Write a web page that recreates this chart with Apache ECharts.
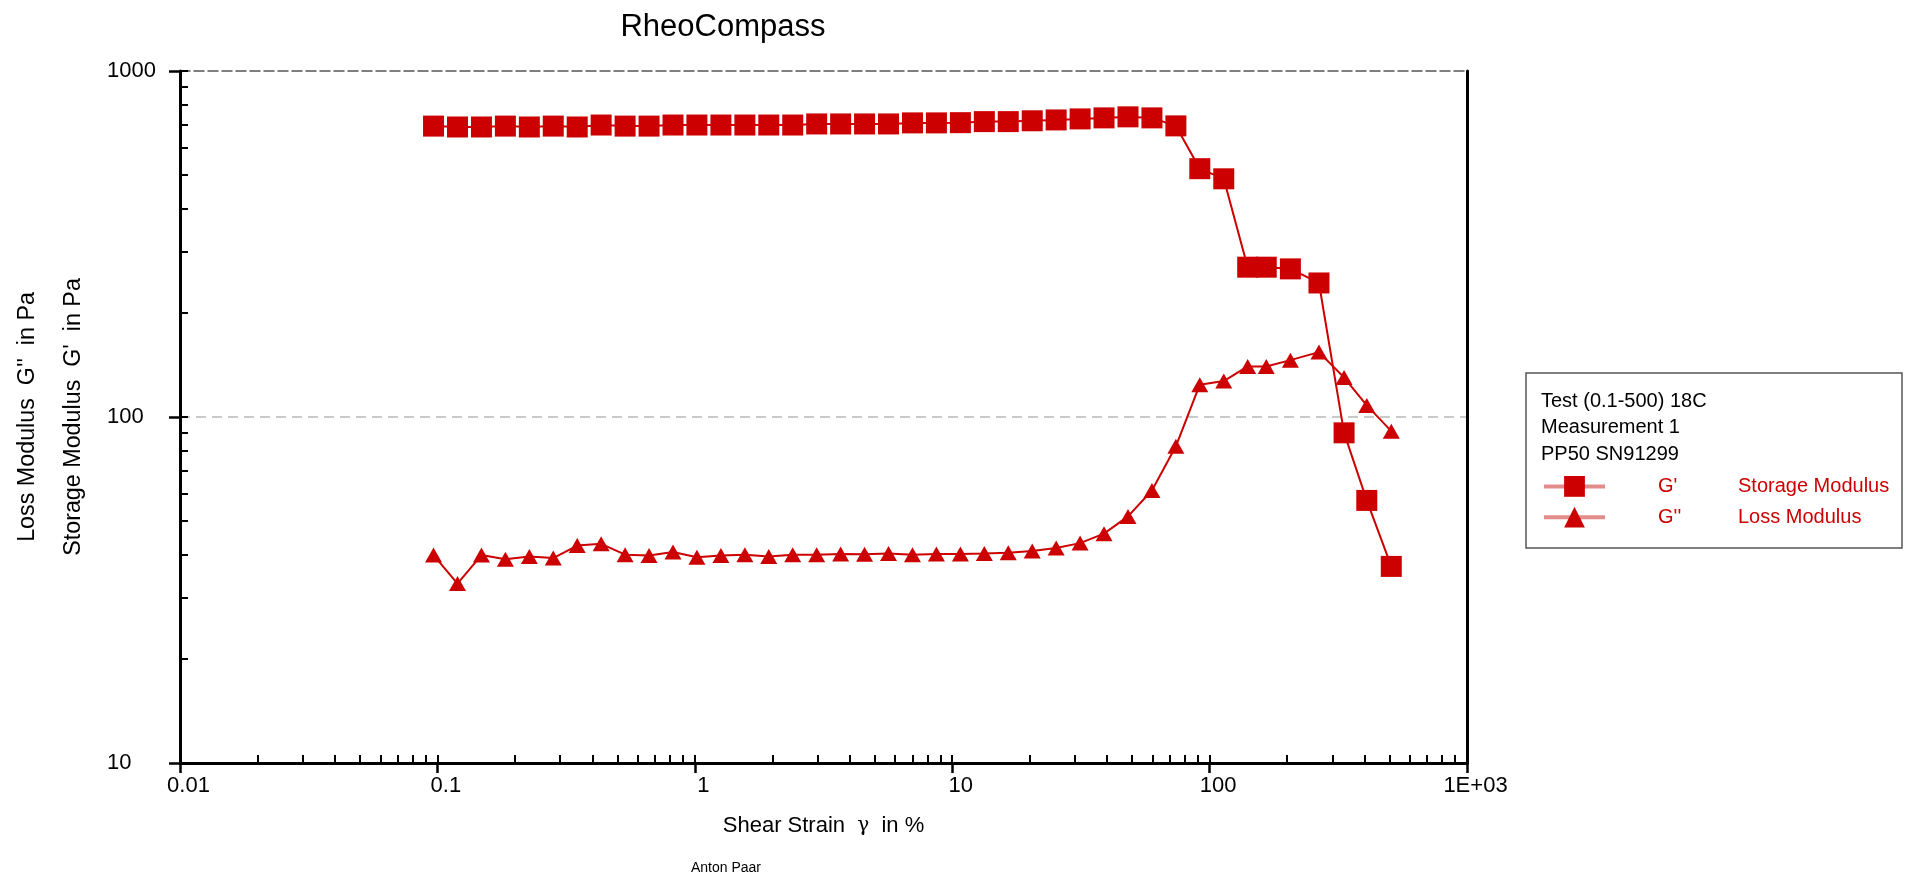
<!DOCTYPE html>
<html lang="en">
  <head>
    <meta charset="UTF-8" />
    <title>RheoCompass</title>
    <script src="https://cdn.jsdelivr.net/npm/echarts@6/dist/echarts.min.js"></script>
    <style>
      html, body { margin: 0; padding: 0; background: #fff; }
    </style>
  </head>
  <body>
    <div id="main" style="width: 1905px;height:877px;"></div>
    <script type="text/javascript">
      // shear strain in %
      var strain = [
        0.0966, 0.1197, 0.1483, 0.1837, 0.2276, 0.2819, 0.3493, 0.4327, 0.5361, 0.6642,
        0.8229, 1.019, 1.263, 1.565, 1.938, 2.401, 2.975, 3.686, 4.566, 5.657,
        7.009, 8.683, 10.76, 13.33, 16.51, 20.46, 25.34, 31.4, 38.89, 48.19,
        59.7, 73.96, 91.6, 113.5, 140.6, 166, 206, 266, 333, 408, 508
      ]
      // G' in Pa
      var storageModulus = [
        693, 689, 689, 693, 689, 693, 689, 698, 693, 693,
        698, 698, 698, 698, 698, 698, 703, 703, 703, 703,
        708, 708, 709, 714, 714, 718, 722, 727, 732, 737,
        732, 694, 522, 488, 271, 271, 268, 244, 90, 57.4, 37
      ]
      // G'' in Pa
      var lossModulus = [
        39.9, 33, 39.9, 38.8, 39.5, 39.1, 42.5, 43, 40, 39.8,
        40.7, 39.3, 39.8, 40, 39.5, 40, 40, 40.2, 40.1, 40.3,
        40, 40.2, 40.2, 40.3, 40.5, 41, 41.8, 43.2, 46, 51.6,
        61.3, 82.3, 124, 127, 140, 140, 146, 154, 130, 108, 91
      ]
      var xTickLabels = ['0.01', '0.1', '1', '10', '100', '1E+03']
      var yTickLabels = ['10', '100', '1000']
      var seriesNames = ["G'", "G''"]
      var seriesDesc = ['Storage Modulus', 'Loss Modulus']
      var infoLines = ['Test (0.1-500) 18C', 'Measurement 1', 'PP50 SN91299']

      var RED = '#cc0000'
      var FONT = 'Liberation Sans, Arial, sans-serif'

      // small ticks 1..9 in every decade
      function decadeTicks(from, to) {
        var out = []
        for (var d = from; d < to; d++) {
          for (var k = 1; k < 10; k++) out.push(k * Math.pow(10, d))
        }
        out.push(Math.pow(10, to))
        return out
      }

      var myChart = echarts.init(document.getElementById('main'))

      var option = {
        animation: false,
        grid: { left: 180, top: 71, width: 1287, height: 692 },
        graphic: [
          {
            type: 'text', x: 723, y: 27,
            style: { text: 'RheoCompass', fontSize: 31, fontFamily: FONT, fill: '#000', align: 'center', verticalAlign: 'middle' }
          },
          {
            type: 'text', x: 28, y: 417, rotation: Math.PI / 2,
            style: { text: "Loss Modulus  G''  in Pa", fontSize: 23.3, fontFamily: FONT, fill: '#000', align: 'center', verticalAlign: 'middle' }
          },
          {
            type: 'text', x: 74, y: 417, rotation: Math.PI / 2,
            style: { text: "Storage Modulus  G'  in Pa", fontSize: 23.3, fontFamily: FONT, fill: '#000', align: 'center', verticalAlign: 'middle' }
          },
          {
            type: 'text', x: 726, y: 868,
            style: { text: 'Anton Paar', fontSize: 14, fontFamily: FONT, fill: '#000', align: 'center', verticalAlign: 'middle' }
          },
          {
            type: 'rect', z: 0,
            shape: { x: 1526, y: 373, width: 376, height: 175 },
            style: { fill: 'none', stroke: '#555', lineWidth: 1.5 }
          },
          {
            type: 'text', x: 1541, y: 401,
            style: { text: infoLines[0], fontSize: 20, fontFamily: FONT, fill: '#000', verticalAlign: 'middle' }
          },
          {
            type: 'text', x: 1541, y: 427,
            style: { text: infoLines[1], fontSize: 20, fontFamily: FONT, fill: '#000', verticalAlign: 'middle' }
          },
          {
            type: 'text', x: 1541, y: 454,
            style: { text: infoLines[2], fontSize: 20, fontFamily: FONT, fill: '#000', verticalAlign: 'middle' }
          }
        ],
        legend: {
          data: seriesNames,
          orient: 'vertical',
          left: 1542,
          top: 476,
          padding: 0,
          itemWidth: 61,
          itemHeight: 26,
          itemGap: 10,
          selectedMode: false,
          lineStyle: { color: '#e38c8c', width: 4 },
          formatter: function (name) {
            return '{a|' + name + '}{b|' + seriesDesc[seriesNames.indexOf(name)] + '}'
          },
          textStyle: {
            color: RED,
            fontSize: 20,
            fontFamily: FONT,
            rich: {
              a: { color: RED, fontSize: 20, fontFamily: FONT, width: 80, padding: [0, 0, 0, 48] },
              b: { color: RED, fontSize: 20, fontFamily: FONT }
            }
          }
        },
        xAxis: [
          {
            type: 'log', logBase: 10, min: 0.01, max: 1000,
            position: 'bottom',
            name: 'Shear Strain  {g|γ}  in %',
            nameLocation: 'middle',
            nameGap: 52,
            nameTextStyle: {
              fontSize: 22, fontFamily: FONT, color: '#000',
              rich: { g: { fontSize: 20, fontFamily: 'DejaVu Serif', color: '#000' } }
            },
            axisLine: { lineStyle: { color: '#000', width: 3 } },
            axisTick: { inside: false, length: 10, lineStyle: { color: '#000', width: 2.5 } },
            axisLabel: {
              fontSize: 22, fontFamily: FONT, color: '#000', margin: 12,
              padding: [0, 0, 0, 17],
              formatter: function (v) { return xTickLabels[Math.round(Math.log10(v)) + 2] }
            },
            splitLine: { show: false }
          },
          {
            type: 'log', logBase: 10, min: 0.01, max: 1000,
            position: 'bottom',
            axisLine: { show: false },
            axisTick: { inside: true, length: 8, customValues: decadeTicks(-2, 3), lineStyle: { color: '#000', width: 2 } },
            axisLabel: { show: false },
            splitLine: { show: false }
          },
          {
            type: 'log', logBase: 10, min: 0.01, max: 1000,
            position: 'top',
            axisLine: { lineStyle: { color: '#555', width: 1.5, type: [10, 4] } },
            axisTick: { show: false },
            axisLabel: { show: false },
            splitLine: { show: false }
          }
        ],
        yAxis: [
          {
            type: 'log', logBase: 10, min: 10, max: 1000,
            position: 'left',
            axisLine: { lineStyle: { color: '#000', width: 3 } },
            axisTick: { inside: false, length: 11, lineStyle: { color: '#000', width: 2.5 } },
            axisLabel: {
              fontSize: 22, fontFamily: FONT, color: '#000', margin: 73, align: 'left',
              formatter: function (v) { return yTickLabels[Math.round(Math.log10(v)) - 1] }
            },
            splitLine: {
              show: true,
              showMinLine: false,
              showMaxLine: false,
              lineStyle: { type: [10, 6], color: '#b8b8b8', width: 1.5 }
            }
          },
          {
            type: 'log', logBase: 10, min: 10, max: 1000,
            position: 'left',
            axisLine: { show: false },
            axisTick: { inside: true, length: 8, customValues: decadeTicks(1, 3), lineStyle: { color: '#000', width: 2 } },
            axisLabel: { show: false },
            splitLine: { show: false }
          },
          {
            type: 'log', logBase: 10, min: 10, max: 1000,
            position: 'right',
            axisLine: { lineStyle: { color: '#000', width: 3 } },
            axisTick: { show: false },
            axisLabel: { show: false },
            splitLine: { show: false }
          }
        ],
        series: [
          {
            name: seriesNames[0],
            type: 'line',
            data: strain.map(function (x, i) { return [x, storageModulus[i]] }),
            symbol: 'rect',
            symbolSize: 21,
            showAllSymbol: true,
            itemStyle: { color: RED },
            lineStyle: { color: RED, width: 2 }
          },
          {
            name: seriesNames[1],
            type: 'line',
            data: strain.map(function (x, i) { return [x, lossModulus[i]] }),
            symbol: 'triangle',
            symbolSize: [17, 15],
            showAllSymbol: true,
            itemStyle: { color: RED },
            lineStyle: { color: RED, width: 2 }
          }
        ]
      }

      myChart.setOption(option)
    </script>
  </body>
</html>
